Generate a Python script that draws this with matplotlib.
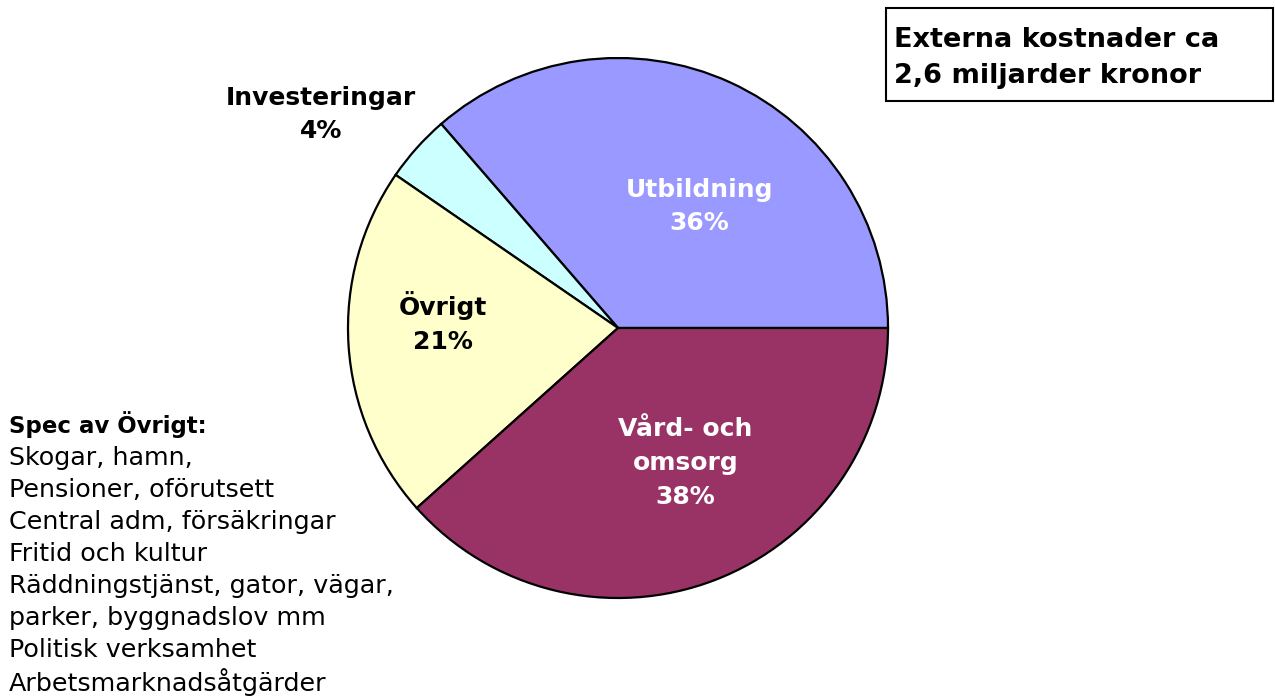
import matplotlib.pyplot as plt
from matplotlib.patches import Rectangle

plt.rcParams['font.family'] = ['DejaVu Sans']

categories = ['Utbildning', 'Investeringar', 'Övrigt', 'Vård- och\nomsorg']
shares = [36, 4, 21, 38]
colors = ['#9999FF', '#CCFFFF', '#FFFFCC', '#993366']
label_colors = ['white', 'black', 'black', 'white']
# label centres in pie units (radius 1)
label_pos = [(0.30, 0.45), (-1.10, 0.79), (-0.65, 0.02), (0.25, -0.50)]

title_text = 'Externa kostnader ca\n2,6 miljarder kronor'
spec_title = 'Spec av Övrigt:'
spec_lines = ['Skogar, hamn,', 'Pensioner, oförutsett', 'Central adm, försäkringar',
              'Fritid och kultur', 'Räddningstjänst, gator, vägar,',
              'parker, byggnadslov mm', 'Politisk verksamhet', 'Arbetsmarknadsåtgärder']

W, H = 1275, 697
fig = plt.figure(figsize=(W / 100, H / 100), dpi=100)

ax = fig.add_axes([348 / W, (H - 598) / H, 540 / W, 540 / H])
ax.pie(shares, colors=colors, startangle=0, counterclock=True,
       wedgeprops=dict(edgecolor='black', linewidth=1.6))
ax.set_xlim(-1, 1)
ax.set_ylim(-1, 1)
ax.set_aspect('equal')

for name, val, col, (x, y) in zip(categories, shares, label_colors, label_pos):
    ax.text(x, y, f'{name}\n{val}%', ha='center', va='center', color=col,
            fontsize=18, fontweight='bold', linespacing=1.5, clip_on=False)

# box top right
fig.patches.append(Rectangle((886 / W, (H - 101) / H), 387 / W, 93 / H,
                             transform=fig.transFigure, fill=False,
                             edgecolor='black', linewidth=1.5))
fig.text(894 / W, (H - 58) / H, title_text, ha='left', va='center',
         fontsize=19.5, fontweight='bold', linespacing=1.5)

# spec text lower left
fig.text(9 / W, (H - 425) / H, spec_title, ha='left', va='center',
         fontsize=16.5, fontweight='bold')
for i, line in enumerate(spec_lines):
    fig.text(9 / W, (H - 458 - 32 * i) / H, line, ha='left', va='center',
             fontsize=18.3)

fig.savefig('out.png', dpi=100)
